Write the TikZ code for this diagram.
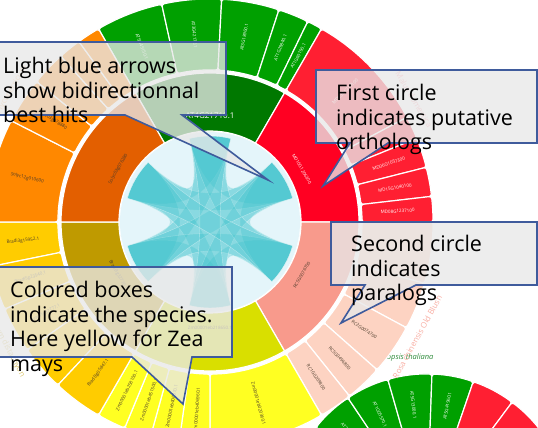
\documentclass[tikz,border=0pt]{standalone}
\usepackage{fontspec}
\setmainfont{Open Sans}

\definecolor{arabOut}{HTML}{00A000}
\definecolor{arabIn}{HTML}{007800}
\definecolor{malusOut}{HTML}{FF1F32}
\definecolor{malusIn}{HTML}{FF0022}
\definecolor{rosaOut}{HTML}{FDD3C2}
\definecolor{rosaIn}{HTML}{F89A8C}
\definecolor{zeaOut}{HTML}{FFFF22}
\definecolor{zeaIn}{HTML}{D9DF00}
\definecolor{bradOut}{HTML}{FFCC00}
\definecolor{bradIn}{HTML}{BF9A00}
\definecolor{solOut}{HTML}{FF8800}
\definecolor{solIn}{HTML}{E35F00}
\definecolor{darkText}{HTML}{4A3A2A}
\definecolor{discBlue}{HTML}{E4F5FA}
\definecolor{ribbon}{HTML}{3EC3CC}
\definecolor{calloutLine}{HTML}{3F5B9C}
\definecolor{calloutFill}{HTML}{E8E8E8}
\definecolor{arabName}{HTML}{2E8B3A}

% annular sector: style, start angle, end angle, inner radius, outer radius
\newcommand{\ringseg}[5]{%
  \filldraw[#1] (#2:#4) arc[start angle=#2, end angle=#3, radius=#4]
    -- (#3:#5) arc[start angle=#3, end angle=#2, radius=#5] -- cycle;}

\begin{document}
\begin{tikzpicture}[x=1pt, y=1pt]
  \tikzset{
    outer box/.style={draw=white, line width=1.2pt, rounded corners=2.5pt},
    inner box/.style={draw=white, line width=1.2pt},
    box label/.style={font=\fontsize{4.5}{5}\selectfont, inner sep=0pt},
    species label/.style={font=\fontsize{8}{9}\selectfont, inner sep=0pt},
    chord/.style={fill=ribbon, fill opacity=0.32, draw=white, draw opacity=0.45, line width=0.4pt},
    callout/.style={draw=calloutLine, line width=1.6pt, fill=calloutFill, fill opacity=0.78, line join=miter},
    callout text/.style={font=\fontsize{21.5}{24.5}\selectfont, align=left, anchor=north west, inner sep=0pt, text=black}
  }
  \useasboundingbox (0,0) rectangle (538,428);
  \clip (0,0) rectangle (538,428);
  \fill[white] (0,0) rectangle (538,428);

  % Second plot peeking in at the bottom right
  \node[font=\itshape\fontsize{7.5}{9}\selectfont, text=arabName, anchor=base east] (arab-name) at (437,68) {Arabidopsis thaliana};
  \begin{scope}[shift={(427,-88)}]
    \foreach \p/\q/\fc/\lab [count=\k] in {160/141.5/arabOut/{}, 141.5/123.8/arabOut/AT2G13680.1,
        123.8/106/arabOut/AT1G05570.1, 106/88/arabOut/AT5G13000.1, 88/71/arabOut/AT5G41960.1,
        71/53.2/malusOut/{}, 53.2/30/malusOut/{}}{
      \ringseg{outer box, fill=\fc}{\p}{\q}{60}{142}
      \pgfmathsetmacro\m{(\p+\q)/2}
      \pgfmathsetmacro\rot{cos(\m)<0 ? \m+180 : \m}
      \node[box label, text=white, rotate=\rot] (low-\k) at (\m:112) {\lab};
    }
  \end{scope}

  % Main plot
  \begin{scope}[shift={(210,206)}]
    % species names round the plot
    \node[species label, text=malusOut!40, rotate=-59] (malus-name) at (31:238) {Malus domestica};
    \node[species label, text=rosaIn!80, rotate=61] (rosa-name) at (-29:237) {Rosa chinensis Old Blush};
    \node[species label, text=bradIn!55, rotate=-62] (brad-name) at (208:238) {Brachypodium distachyon};
    \node[species label, text=solOut!50, rotate=60] (sol-name) at (150:238) {Solanum lycopersicum};

    % second circle: paralog boxes
    \foreach \p/\q/\fc/\tc/\lab [count=\k] in {
        120/102.5/arabOut/white/AT5G45150.1, 102.5/87/arabOut/white/AT3G42170.1,
        87/72/arabOut/white/AT3G18960.1, 72/64/arabOut/white/AT1G29840.1, 64/60/arabOut/white/AT1G60190.1,
        60/28/malusOut/white/MD03G1213100, 28/22/malusOut/white/{}, 22/14.2/malusOut/white/MD06G1057300,
        14.2/6.6/malusOut/white/MD15G1040100, 6.6/0/malusOut/white/MD08G1237100,
        0/-16/rosaOut/darkText/{}, -16/-28.3/rosaOut/darkText/{}, -28.3/-41.5/rosaOut/darkText/RC2G0074700,
        -41.5/-51.3/rosaOut/darkText/RC5G0496800, -51.3/-60/rosaOut/darkText/RC1G0209800,
        -60/-90/zeaOut/darkText/Zm00001eb020360.1, -90/-98/zeaOut/darkText/Zm00001eb406960.1,
        -98/-105.5/zeaOut/darkText/Zm00001eb400070.1, -105.5/-112.5/zeaOut/darkText/Zm00001eb451500.1,
        -112.5/-120/zeaOut/darkText/Zm00001eb258100.1,
        180/191.5/bradOut/darkText/Bradi3g15952.1, 191.5/203/bradOut/darkText/Bradi5g23540.1,
        203/215/bradOut/darkText/Bradi1g37777.1, 215/227/bradOut/darkText/{}, 227/240/bradOut/darkText/Bradi3g05847.1,
        180/153/solOut/darkText/Solyc12g010600, 153/141/solOut/darkText/Solyc03g078880,
        141/132/solOut/darkText/{}, 132/126/solOut/darkText/{}, 126/120/solOut/darkText/{}}{
      \ringseg{outer box, fill=\fc}{\p}{\q}{152}{223}
      \pgfmathsetmacro\m{(\p+\q)/2}
      \pgfmathsetmacro\rot{cos(\m)<0 ? \m+180 : \m}
      \node[box label, text=\tc, rotate=\rot] (para-\k) at (\m:188) {\lab};
    }

    % first circle: putative orthologs
    \foreach \p/\q/\fc/\tc/\fs/\lab [count=\k] in {
        60/120/arabIn/white/8/AT4G21710.1, 0/60/malusIn/white/4.5/MD10G1206300,
        -60/0/rosaIn/darkText/4.5/RC5G0076700, -120/-60/zeaIn/darkText/4.5/Zm00001eb218650.1,
        180/240/bradIn/darkText/4.5/Bradi3g32770.1, 120/180/solIn/darkText/4.5/Solyc03g076280}{
      \ringseg{inner box, fill=\fc}{\p}{\q}{91}{149}
      \pgfmathsetmacro\m{(\p+\q)/2}
      \pgfmathsetmacro\rot{sin(\m)>0 ? \m-90 : \m+90}
      \node[box label, font=\fontsize{\fs}{\fs}\selectfont, text=\tc, rotate=\rot] (ortho-\k) at (\m:106) {\lab};
    }

    % light blue centre
    \fill[discBlue] (0,0) circle[radius=90];

    % bidirectional best hit ribbons, each one as wide as its two ends
    \foreach \i/\n in {0/1,1/1,2/1,3/1,4/1,5/1,0/2,1/2,2/2,3/2,4/2,5/2,0/3,1/3,2/3}{
      \pgfmathsetmacro\sa{30+60*\i-14}
      \pgfmathsetmacro\ea{\sa+28}
      \pgfmathsetmacro\sb{30+60*(\i+\n)-14}
      \pgfmathsetmacro\eb{\sb+28}
      \draw[chord] (\sa:86) arc[start angle=\sa, end angle=\ea, radius=86]
        .. controls (\ea:27) and (\sb:27) .. (\sb:86) arc[start angle=\sb, end angle=\eb, radius=86]
        .. controls (\eb:27) and (\sa:27) .. cycle;
    }
  \end{scope}

  % --- Callouts ---
  \draw[callout] (-5,386) -- (226,386) -- (226,313) -- (182,313) -- (268,248) -- (125,313) -- (-5,313) -- cycle;
  \node[callout text] (blue-arrows) at (3,371) {Light blue arrows\\show bidirectionnal\\best hits};

  \draw[callout] (316,358) -- (537,358) -- (537,285) -- (388,285) -- (323,242) -- (350,285) -- (316,285) -- cycle;
  \node[callout text] (first-circle) at (336,344) {First circle\\indicates putative\\orthologs};

  \draw[callout] (331,206) -- (537,206) -- (537,143) -- (416,143) -- (341,105) -- (365,143) -- (331,143) -- cycle;
  \node[callout text] (second-circle) at (351,193) {Second circle\\indicates\\paralogs};

  \draw[callout] (-5,161) -- (232,161) -- (232,71) -- (192,71) -- (183,24) -- (132,71) -- (-5,71) -- cycle;
  \node[callout text] (colored-boxes) at (10,147) {Colored boxes\\indicate the species.\\Here yellow for Zea\\mays};
\end{tikzpicture}
\end{document}
